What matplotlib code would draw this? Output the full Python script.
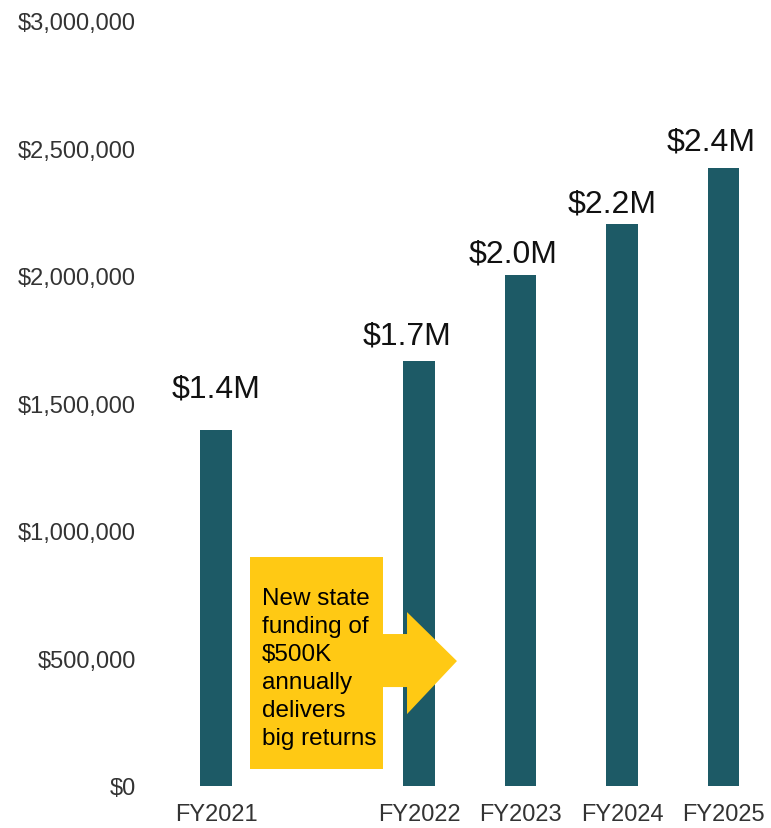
import matplotlib
matplotlib.use('Agg')
from matplotlib import pyplot as plt
from matplotlib.patches import Rectangle, Polygon
from matplotlib.ticker import FuncFormatter

# data
years = ['FY2021', 'FY2022', 'FY2023', 'FY2024', 'FY2025']
positions = [0, 2, 3, 4, 5]   # gap after FY2021 leaves room for the callout
funding = [1396000, 1667000, 2004000, 2204000, 2424000]
value_labels = ['$1.4M', '$1.7M', '$2.0M', '$2.2M', '$2.4M']
callout = 'New state\nfunding of\n$500K\nannually\ndelivers\nbig returns'

plt.rcParams['font.family'] = ['Liberation Sans', 'DejaVu Sans']

fig = plt.figure(figsize=(7.71, 8.29), dpi=100)
ax = fig.add_axes([150 / 771, 42 / 829, 619 / 771, 765 / 829])

bar_color = '#1d5a66'
ax.bar(positions, funding, width=0.31, color=bar_color, zorder=2)

# labels above bars (pixel offsets differ a bit in the original)
label_gaps = [34, 17, 13, 12, 18]
label_shift = [0, -12, -7, -10, -12]
for x, v, lab, gap, dx in zip(positions, funding, value_labels, label_gaps, label_shift):
    ax.annotate(lab, (x, v), xytext=(dx * 0.72, gap * 0.72), textcoords='offset points',
                ha='center', va='baseline', fontsize=23, color='#111111')

ax.set_xlim(-0.65, 5.448)
ax.set_ylim(0, 3000000)
ax.set_yticks(range(0, 3000001, 500000))
ax.yaxis.set_major_formatter(FuncFormatter(lambda v, p: '${:,.0f}'.format(v)))
ax.set_xticks(positions)
ax.set_xticklabels(years)
ax.tick_params(axis='both', length=0, labelsize=17, labelcolor='#333333')
ax.tick_params(axis='y', pad=10)
ax.tick_params(axis='x', pad=12)
for s in ax.spines.values():
    s.set_visible(False)

# yellow callout box with arrow
yellow = '#ffc914'
ax.add_patch(Rectangle((0.335, 67000), 1.31, 831000, facecolor=yellow,
                       edgecolor='none', zorder=3))
ax.add_patch(Polygon([(1.64, 388000), (1.882, 388000), (1.882, 282000),
                      (2.374, 490000), (1.882, 682000), (1.882, 596000),
                      (1.64, 596000)], closed=True, facecolor=yellow,
                     edgecolor='none', zorder=3))
ax.text(0.453, 462000, callout, ha='left', va='center', fontsize=17.5,
        linespacing=1.36, color='black', zorder=4)

fig.savefig('out.png', dpi=100)
